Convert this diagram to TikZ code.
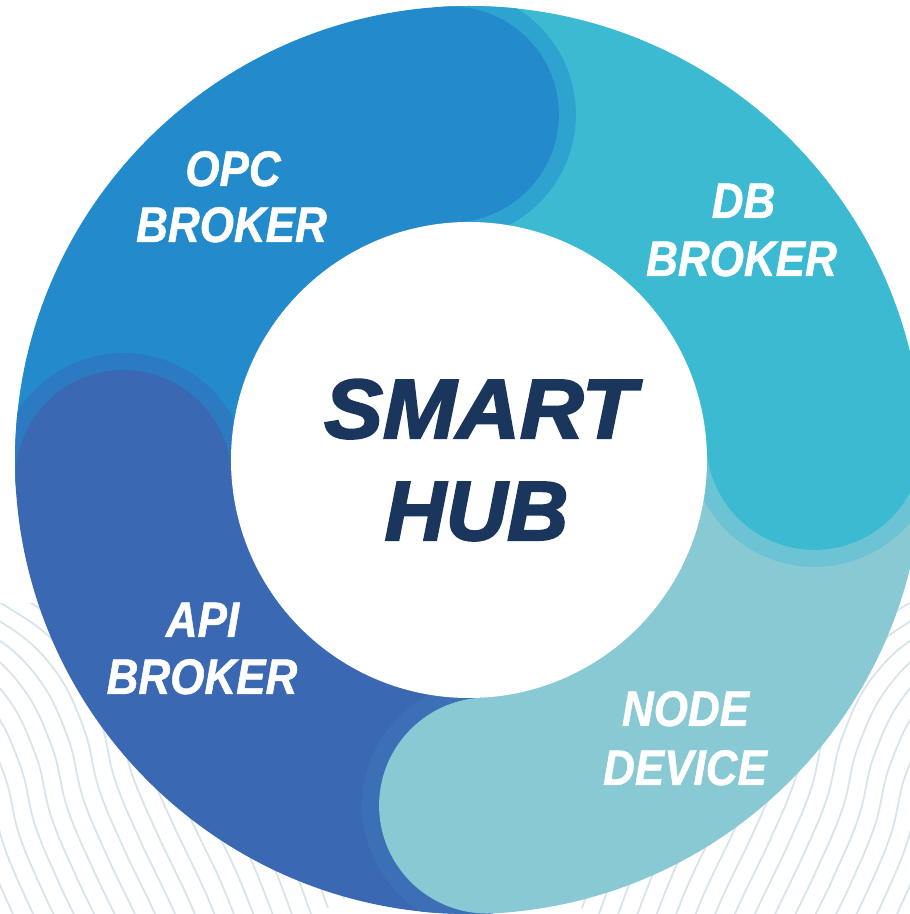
\documentclass[tikz,border=0pt]{standalone}
\usepackage{fontspec}
\setmainfont{Liberation Sans}
\newfontfamily\labfont{Liberation Sans}[FakeStretch=0.88,FakeBold=1]
\newfontfamily\hubfont{Liberation Sans}[FakeBold=2.5,FakeStretch=0.98]
\definecolor{opcC}{HTML}{238BCB}
\definecolor{dbC}{HTML}{3BBAD2}
\definecolor{nodeC}{HTML}{88C9D3}
\definecolor{apiC}{HTML}{3A68B2}
\definecolor{opcB}{HTML}{2FA3CF}
\definecolor{dbB}{HTML}{6BC3D4}
\definecolor{nodeB}{HTML}{3C70B6}
\definecolor{apiB}{HTML}{2C7BC2}
\definecolor{hubC}{HTML}{1B365D}
\definecolor{waveC}{HTML}{D8E4EB}
\tikzset{
  lab/.style={text=white, font=\labfont\bfseries\itshape\fontsize{50}{50}\selectfont, anchor=base, inner sep=0pt},
  hubtxt/.style={text=hubC, font=\hubfont\bfseries\itshape\fontsize{84}{84}\selectfont, anchor=base, inner sep=0pt},
  wave/.style={draw=waveC, line width=1.8pt}
}
\newcommand{\wavefamily}{%
  \foreach \k in {-12,...,13} {
    \draw[wave, shift={(-16*\k,-9*\k)}] plot[smooth, tension=0.65] coordinates
      {(-250,374) (-60,334) (20,299) (70,254) (100,194) (115,134) (140,74) (175,0) (200,-66)};
  }%
}
\begin{document}
\begin{tikzpicture}[x=1pt,y=1pt]
\useasboundingbox (0,0) rectangle (910,914);
\clip (0,0) rectangle (910,914);
% background waves
\begin{scope}
  \clip (0,0) rectangle (470,310);
  \wavefamily
\end{scope}
\begin{scope}[shift={(910,0)}, xscale=-1]
  \clip (0,0) rectangle (440,310);
  \wavefamily
\end{scope}
% ring
\begin{scope}[shift={(469,454)}]
  \begin{scope}
    \clip (0,0) circle (454);
    \fill[opcC]  (0,0) -- (93:470)  arc[start angle=93,  end angle=183, radius=470] -- cycle;
    \fill[dbC]   (0,0) -- (3:470)   arc[start angle=3,   end angle=93,  radius=470] -- cycle;
    \fill[nodeC] (0,0) -- (-87:470) arc[start angle=-87, end angle=3,   radius=470] -- cycle;
    \fill[apiC]  (0,0) -- (183:470) arc[start angle=183, end angle=273, radius=470] -- cycle;
    \foreach \a/\bc/\lc in {93/opcB/opcC, 3/dbB/dbC, -87/nodeB/nodeC, 183/apiB/apiC} {
      \begin{scope}
        \clip (0,0) -- (\a:700) -- ({\a-45}:700) -- ({\a-90}:700) -- cycle;
        \fill[\bc] (\a:346) circle (125);
      \end{scope}
      \fill[\lc] (\a:346) circle (108);
    }
  \end{scope}
  \fill[white] (0,0) circle (238);
\end{scope}
% labels
\node[lab] (opc1) at (233,728) {OPC};
\node[lab] (opc2) at (231.5,672) {BROKER};
\node[lab] (db1) at (743.5,696) {DB};
\node[lab] (db2) at (741.5,638) {BROKER};
\node[lab] (api1) at (202.5,277) {API};
\node[lab] (api2) at (202,220) {BROKER};
\node[lab] (node1) at (685.5,188) {NODE};
\node[lab] (node2) at (685,129) {DEVICE};
\node[hubtxt, xscale=1.07] (hub1) at (480,476) {SMART};
\node[hubtxt, xscale=1.03] (hub2) at (476.5,374) {HUB};
\end{tikzpicture}
\end{document}
